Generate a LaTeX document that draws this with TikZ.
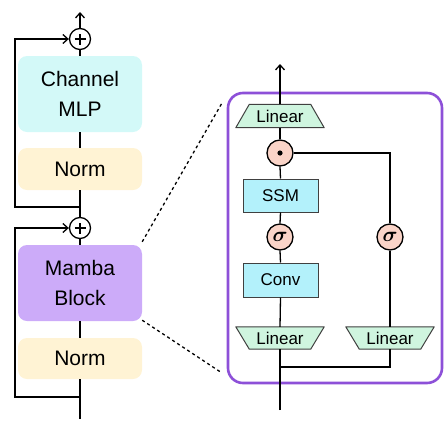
\documentclass[tikz,border=0pt]{standalone}
\usepackage{fontspec}
\setmainfont{Liberation Sans}
\usepackage{bm}
\usetikzlibrary{arrows.meta,backgrounds}
\definecolor{mlpc}{HTML}{D3F9F8}
\definecolor{normc}{HTML}{FFF3D4}
\definecolor{mambac}{HTML}{CCABF9}
\definecolor{framec}{HTML}{8D50D8}
\definecolor{linc}{HTML}{CFF5DF}
\definecolor{ssmc}{HTML}{B3F1FB}
\definecolor{circc}{HTML}{FAD4C8}
\tikzset{
  conn/.style={line width=1.3pt, black},
  arr/.style={conn, -{Straight Barb[length=5pt,width=9pt,line width=1.3pt]}},
  bigbox/.style={rounded corners=9pt, minimum width=124pt, align=center, font=\fontsize{21}{30}\selectfont, inner sep=0pt},
  plusnode/.style={circle, draw, line width=1.3pt, fill=white, minimum size=21pt, inner sep=0pt,
    path picture={\draw[line width=1.2pt] ([xshift=-5.5pt]path picture bounding box.center) -- ([xshift=5.5pt]path picture bounding box.center) ([yshift=-5.5pt]path picture bounding box.center) -- ([yshift=5.5pt]path picture bounding box.center);}},
  dotnode/.style={circle, draw, line width=1.3pt, fill=circc, minimum size=26pt, inner sep=0pt,
    path picture={\fill[black] (path picture bounding box.center) circle (2.6pt);}},
  signode/.style={circle, draw, line width=1.3pt, fill=circc, minimum size=26pt, inner sep=0pt, font=\fontsize{20}{20}\selectfont},
  rectbox/.style={draw=black!75, line width=1pt, fill=ssmc, minimum width=75pt, minimum height=33pt, inner sep=0pt, font=\fontsize{17}{20}\selectfont},
  lintext/.style={minimum width=88pt, minimum height=23pt, inner sep=0pt, font=\fontsize{17}{20}\selectfont},
  linshape/.style={draw=black!75, line width=1pt, fill=linc, line join=round},
  dots/.style={line width=1.3pt, dash pattern=on 3pt off 3pt},
}
\begin{document}
\begin{tikzpicture}[x=1pt,y=-1pt]
\useasboundingbox (0,0) rectangle (447,426);
% left column
\node[plusnode] (p1) at (80,39) {};
\coordinate (t1) at (80,12);
\node[bigbox, fill=mlpc, minimum height=76pt] (mlp) at (80,94) {Channel\\MLP};
\node[bigbox, fill=normc, minimum height=42pt] (n1) at (80,169) {Norm};
\coordinate (r1) at (80,207);
\coordinate (l1) at (15,207);
\node[plusnode] (p2) at (80,228) {};
\node[bigbox, fill=mambac, minimum height=76pt] (mb) at (80,283) {Mamba\\Block};
\node[bigbox, fill=normc, minimum height=41pt] (n2) at (80,358.5) {Norm};
\coordinate (r2) at (80,397);
\coordinate (l2) at (15,397);
\coordinate (b1) at (80,419);

\draw[arr] (p1.north) -- (t1);
\draw[conn] (mlp.north) -- (p1.south);
\draw[conn] (n1.north) -- (mlp.south);
\draw[conn] (p2.north) -- (n1.south);
\draw[arr] (r1) -- (l1) |- (p1.west);
\draw[conn] (mb.north) -- (p2.south);
\draw[conn] (n2.north) -- (mb.south);
\draw[conn] (b1) -- (n2.south);
\draw[arr] (r2) -- (l2) |- (p2.west);

% expanded frame
\node[draw=framec, line width=2.6pt, rounded corners=15pt, minimum width=214pt, minimum height=290pt, inner sep=0pt] (fr) at (335,238) {};
\coordinate (d1) at (222,103);
\coordinate (d2) at (222,373);
\draw[dots] (mb.north east) ++(0,-3) -- (d1);
\draw[dots] (mb.south east) ++(0,-1) -- (d2);

% inner block
\coordinate (t2) at (280,64);
\node[lintext] (lin3) at (280,116) {Linear};
\node[dotnode] (dt) at (280,153) {};
\node[rectbox] (ssm) at (280.5,195.5) {SSM};
\node[signode] (s1) at (280,237) {$\bm{\sigma}$};
\node[rectbox, minimum height=34pt] (cv) at (280.5,280) {Conv};
\node[lintext, minimum height=22pt] (lin1) at (280,338) {Linear};
\node[signode] (s2) at (390,237) {$\bm{\sigma}$};
\node[lintext, minimum height=22pt] (lin2) at (390,338) {Linear};
\coordinate (j1) at (280,367);
\coordinate (b2) at (280,410);

\begin{scope}[on background layer]
  \draw[linshape] (lin3.south west) -- (lin3.south east) -- ([xshift=-13.5pt]lin3.north east) -- ([xshift=13.5pt]lin3.north west) -- cycle;
  \draw[linshape] (lin1.north west) -- (lin1.north east) -- ([xshift=-13.5pt]lin1.south east) -- ([xshift=13.5pt]lin1.south west) -- cycle;
  \draw[linshape] (lin2.north west) -- (lin2.north east) -- ([xshift=-13.5pt]lin2.south east) -- ([xshift=13.5pt]lin2.south west) -- cycle;
\end{scope}

\draw[arr] (lin3.north) -- (t2);
\draw[conn] (dt.north) -- (lin3.south);
\draw[conn] (ssm.north) -- (dt.south);
\draw[conn] (s1.north) -- (ssm.south);
\draw[conn] (cv.north) -- (s1.south);
\draw[conn] (lin1.north) -- (cv.south);
\draw[conn] (b2) -- (lin1.south);
\draw[conn] (j1) -| (lin2.south);
\draw[conn] (lin2.north) -- (s2.south);
\draw[conn] (s2.north) |- (dt.east);
\end{tikzpicture}
\end{document}
